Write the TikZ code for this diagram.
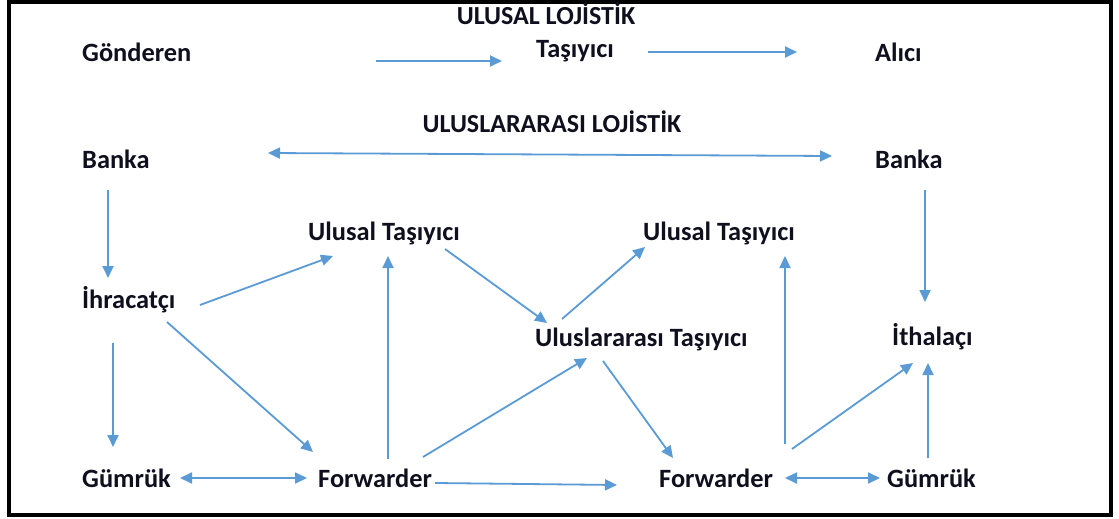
\documentclass[tikz,border=0pt]{standalone}
\usepackage{fontspec}
\setmainfont{Carlito}
\usetikzlibrary{arrows.meta,calc}
\definecolor{arrblue}{RGB}{91,155,213}
\definecolor{txt}{RGB}{15,15,30}
\begin{document}
\begin{tikzpicture}[x=1pt,y=-1pt,
  lbl/.style={inner sep=0pt,anchor=base west,font=\fontsize{26.4}{30}\selectfont\bfseries,text=txt},
  ttl/.style={inner sep=0pt,anchor=base,font=\fontsize{26}{30}\selectfont\bfseries,text=txt},
  arr/.style={draw=arrblue,line width=1.8pt,-{Triangle[length=12pt,width=11pt]}},
  darr/.style={draw=arrblue,line width=1.8pt,{Triangle[length=12pt,width=11pt]}-{Triangle[length=12pt,width=11pt]}}]
\useasboundingbox (0,0) rectangle (1119,519);
\fill[white] (0,0) rectangle (1119,519);
\draw[line width=3.5pt,black] (9,2) rectangle (1111,515);

\node[ttl] (t1) at (546,25) {ULUSAL LOJİSTİK};
\node[ttl] (t2) at (552,132) {ULUSLARARASI LOJİSTİK};

\node[lbl] (gon) at (82,62) {Gönderen};
\node[lbl] (tas) at (536,58) {Taşıyıcı};
\node[lbl] (ali) at (875,62) {Alıcı};
\node[lbl] (bl) at (82,168) {Banka};
\node[lbl] (br) at (875,168) {Banka};
\node[lbl] (ut1) at (308,240) {Ulusal Taşıyıcı};
\node[lbl] (ut2) at (643,240) {Ulusal Taşıyıcı};
\node[lbl] (ihr) at (82,308) {İhracatçı};
\node[lbl] (ult) at (535,346) {Uluslararası Taşıyıcı};
\node[lbl] (ith) at (892,345) {İthalaçı};
\node[lbl] (gl) at (82,487) {Gümrük};
\node[lbl] (fl) at (318,487) {Forwarder};
\node[lbl] (fr) at (659,487) {Forwarder};
\node[lbl] (gr) at (887,487) {Gümrük};

\draw[arr] ($(gon.base west)+(294,-1)$) -- ($(tas.base west)+(-34,3)$);
\draw[arr] ($(tas.base west)+(112,-6)$) -- ($(ali.base west)+(-78,-10)$);
\draw[darr] ($(bl.base west)+(186,-15)$) -- ($(br.base west)+(-43,-12)$);
\draw[arr] ($(bl.base west)+(26,22)$) -- ($(ihr.base west)+(26,-30)$);
\draw[arr] ($(br.base west)+(50,22)$) -- ($(ith.base west)+(33,-43)$);
\draw[arr] ($(ihr.base west)+(118,-3)$) -- ($(ut1.base west)+(25,16)$);
\draw[arr] ($(ihr.base west)+(85,14)$) -- ($(fl.base west)+(-5,-35)$);
\draw[arr] ($(ihr.base west)+(31,35)$) -- ($(gl.base west)+(31,-40)$);
\draw[darr] ($(gl.base west)+(98,-9)$) -- ($(fl.base west)+(-11,-9)$);
\draw[arr] ($(fl.base west)+(70,-28)$) -- ($(ut1.base west)+(80,16)$);
\draw[arr] ($(fl.base west)+(105,-30)$) -- ($(ult.base west)+(52,12)$);
\draw[arr] ($(fl.base west)+(117,-4)$) -- ($(fr.base west)+(-42,-2)$);
\draw[arr] ($(ut1.base west)+(137,9)$) -- ($(ult.base west)+(12,-23)$);
\draw[arr] ($(ult.base west)+(27,-27)$) -- ($(ut2.base west)+(2,7)$);
\draw[arr] ($(ult.base west)+(68,15)$) -- ($(fr.base west)+(14,-29)$);
\draw[arr] ($(fr.base west)+(126,-43)$) -- ($(ut2.base west)+(142,16)$);
\draw[arr] ($(fr.base west)+(133,-38)$) -- ($(ith.base west)+(21,18)$);
\draw[darr] ($(fr.base west)+(126,-9)$) -- ($(gr.base west)+(-7,-9)$);
\draw[arr] ($(gr.base west)+(41,-29)$) -- ($(ith.base west)+(36,18)$);
\end{tikzpicture}
\end{document}
